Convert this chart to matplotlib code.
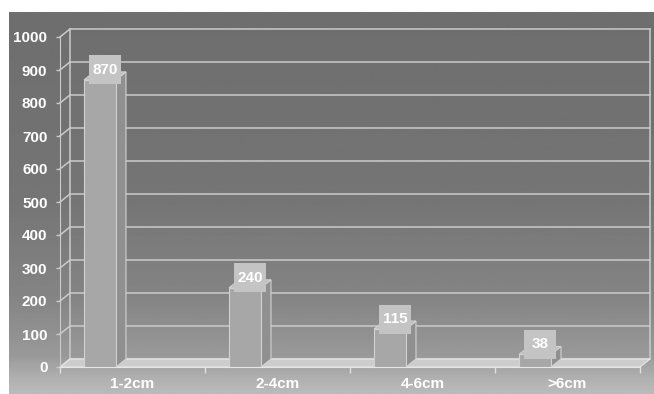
import numpy as np
import matplotlib
matplotlib.use("Agg")
import matplotlib.pyplot as plt
from matplotlib.patches import Polygon, Rectangle

plt.rcParams['font.family'] = ['Liberation Sans', 'DejaVu Sans']

# tumour size groups and counts
categories = ['1-2cm', '2-4cm', '4-6cm', '>6cm']
counts = [870, 240, 115, 38]
yticks = list(range(0, 1001, 100))

W, H = 654, 394
fig = plt.figure(figsize=(W / 100, H / 100), dpi=100)
fig.patch.set_facecolor('white')

# grey backdrop, darker at the top and lightening towards the bottom
bg = fig.add_axes([9 / W, 0, (W - 9) / W, (H - 12) / H])
rows = np.linspace(0, 1, 200)
shade = np.interp(rows, [0.0, 0.5, 0.75, 0.9, 0.96, 1.0],
                  [0.43, 0.46, 0.52, 0.60, 0.69, 0.73])
bg.imshow(shade[:, None], cmap='gray', vmin=0, vmax=1, aspect='auto',
          extent=[0, 1, 0, 1], interpolation='bilinear')
bg.axis('off')

ax = fig.add_axes([60 / W, 27 / H, 580 / W, 330 / H])
ax.patch.set_alpha(0)
ax.set_xlim(0, 4)
ax.set_ylim(0, 1000)

# size of one pixel in data units
x0, y0 = ax.transData.transform((0, 0))
px, py = ax.transData.inverted().transform((x0 + 1, y0 + 1))
# depth of the pseudo-3D box: 10 px right, 8 px up
dx, dy = 10 * px, 8 * py

grid_c = '#cbcbcb'
# back wall and left wall grid
for v in yticks:
    ax.plot([0 + dx, 4 + dx], [v + dy, v + dy], color=grid_c, lw=1.1,
            clip_on=False, zorder=1)
    ax.plot([0, dx], [v, v + dy], color=grid_c, lw=1.1, clip_on=False, zorder=1)
ax.plot([dx, dx], [dy, 1000 + dy], color=grid_c, lw=1.1, clip_on=False, zorder=1)
ax.plot([4 + dx, 4 + dx], [dy, 1000 + dy], color=grid_c, lw=1.1, clip_on=False, zorder=1)

# floor
ax.add_patch(Polygon([(0, 0), (4, 0), (4 + dx, dy), (dx, dy)], closed=True,
                     fc='#cdcdcd', ec='#e4e4e4', lw=0.9, clip_on=False, zorder=2))

bar_w = 0.22
lefts = [i + 0.166 for i in range(len(counts))]
edge_c = '#d2d2d2'
for left, v in zip(lefts, counts):
    right = left + bar_w
    side = [(right, 0), (right + dx, dy), (right + dx, v + dy), (right, v)]
    top = [(left, v), (right, v), (right + dx, v + dy), (left + dx, v + dy)]
    ax.add_patch(Polygon(side, closed=True, fc='#909090', ec=edge_c, lw=0.8,
                         clip_on=False, zorder=3))
    ax.add_patch(Polygon(top, closed=True, fc='#bdbdbd', ec=edge_c, lw=0.8,
                         clip_on=False, zorder=3))
ax.bar(lefts, counts, width=bar_w, align='edge', color='#a7a7a7',
       edgecolor=edge_c, linewidth=0.8, zorder=4, clip_on=False)

# value boxes above each bar (32 x 29 px)
box_w, box_h = 32 * px, 29 * py
for left, v in zip(lefts, counts):
    cx = left + bar_w / 2 + 5 * px
    cy = v + 10 * py
    ax.add_patch(Rectangle((cx - box_w / 2, cy - box_h / 2), box_w, box_h,
                           fc='#c4c4c4', ec='none', clip_on=False, zorder=6))
    ax.text(cx, cy, str(v), ha='center', va='center', color='white',
            fontsize=11, fontweight='bold', zorder=7, clip_on=False)

# axes
for s in ['top', 'right']:
    ax.spines[s].set_visible(False)
ax.spines['left'].set_color(grid_c)
ax.spines['bottom'].set_color('#e6e6e6')
ax.spines['bottom'].set_zorder(5)

ax.set_yticks(yticks)
ax.set_yticklabels([str(v) for v in yticks])
ax.tick_params(axis='y', length=3, width=1, color=grid_c, pad=6,
               labelcolor='white', labelsize=11)

ax.set_xticks([i + 0.5 for i in range(len(categories))])
ax.set_xticklabels(categories)
ax.set_xticks(range(len(categories) + 1), minor=True)
ax.tick_params(axis='x', which='major', length=0, pad=7,
               labelcolor='white', labelsize=11)
ax.tick_params(axis='x', which='minor', length=4, width=1, color='#e0e0e0')
for lab in ax.get_xticklabels() + ax.get_yticklabels():
    lab.set_fontweight('bold')

fig.savefig('out.png', dpi=100)
